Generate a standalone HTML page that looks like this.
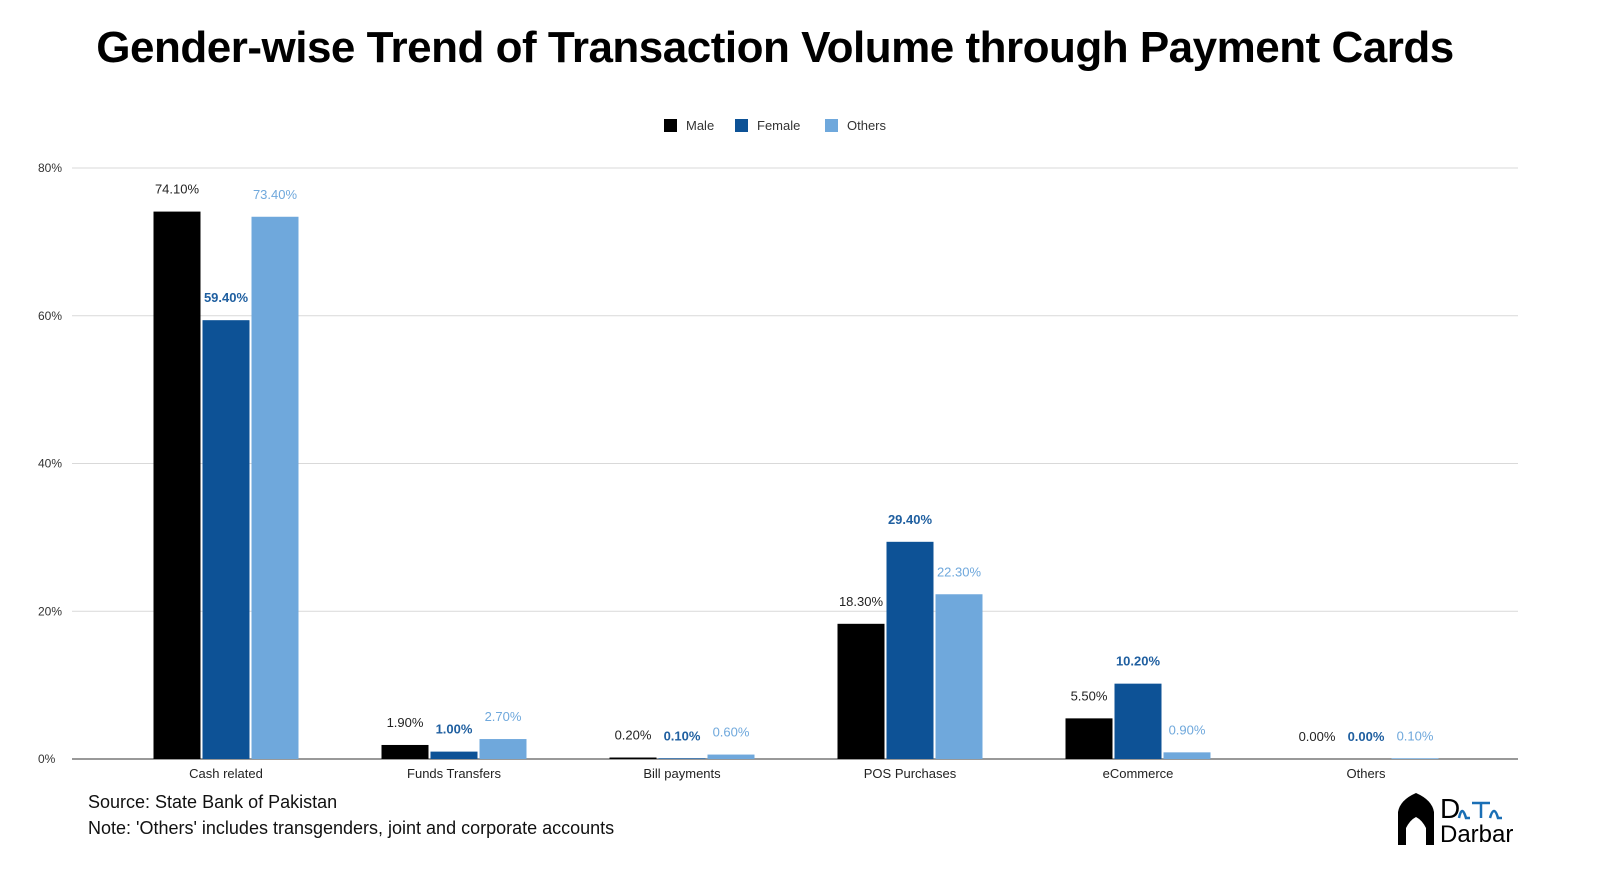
<!DOCTYPE html>
<html><head><meta charset="utf-8"><style>
body{margin:0;width:1600px;height:873px;background:#fff;font-family:"Liberation Sans",sans-serif;overflow:hidden}
</style></head><body>
<svg width="1600" height="873" xmlns="http://www.w3.org/2000/svg" id="chart">
<text x="775" y="62" text-anchor="middle" font-size="44" font-weight="bold" fill="#000" style="letter-spacing:-0.5px">Gender-wise Trend of Transaction Volume through Payment Cards</text>
<g id="legend"></g>
<g id="grid"></g><g id="bars"></g>
<text x="88" y="808" font-size="18" fill="#111">Source: State Bank of Pakistan</text>
<text x="88" y="834" font-size="18" fill="#111">Note: 'Others' includes transgenders, joint and corporate accounts</text>
<g>
<path d="M1398,845 L1398,812 Q1400,800 1416,793 Q1432,800 1434,812 L1434,845 Z" fill="#000"/>
<path d="M1406,845 L1406,828 Q1410,820 1416,817 Q1422,820 1426,828 L1426,845 Z" fill="#fff"/>
<text x="1440" y="818" font-size="28" fill="#000">D</text>
<path d="M1459,818 Q1462,804 1466,818 L1470,818 M1472,803 L1490,803 M1481,803 L1481,818 M1490,818 Q1494,804 1498,818 L1502,818" stroke="#1a6fb5" stroke-width="2.5" fill="none"/>
<text x="1440" y="842" font-size="24" fill="#000">Darbar</text>
</g>
</svg>
<script>
const categories=["Cash related","Funds Transfers","Bill payments","POS Purchases","eCommerce","Others"];
const seriesNames=["Male","Female","Others"];
const male=[74.1,1.9,0.2,18.3,5.5,0.0];
const female=[59.4,1.0,0.1,29.4,10.2,0.0];
const others=[73.4,2.7,0.6,22.3,0.9,0.1];
const yTicks=[0,20,40,60,80];
const colors=["#000000","#0d5296","#6fa8dc"];
const labelColors=["#222","#1f5fa0","#6fa8dc"];
const NS="http://www.w3.org/2000/svg";
const y0=759,yTop=168,yMax=80;
const y=v=>y0-(v/yMax)*(y0-yTop);
const xc=i=>226+i*228;
function mk(tag,attrs,parent,txt){const e=document.createElementNS(NS,tag);for(const k in attrs)e.setAttribute(k,attrs[k]);if(txt!==undefined)e.textContent=txt;document.getElementById(parent).appendChild(e);return e;}
yTicks.forEach(t=>{
 const l=mk("line",{x1:72,x2:1518,y1:y(t),y2:y(t),stroke:t===0?"#333":"#d9d9d9","stroke-width":1},"grid");
 
 
 const tx=mk("text",{x:38,y:y(t)+4,"font-size":12,fill:"#333"},"grid",t+"%");
 
 
});
const data=[male,female,others];
categories.forEach((c,i)=>{
 const cl=mk("text",{x:xc(i),y:778,"text-anchor":"middle","font-size":13,fill:"#222"},"grid",c);
 
 
 data.forEach((s,j)=>{
  const cx=xc(i)+(j-1)*49;
  const r=mk("rect",{x:cx-23.5,y:y(s[i]),width:47,height:y0-y(s[i]),fill:colors[j]},"bars");
  
  
  const t=mk("text",{x:cx,y:y(s[i])-18,"text-anchor":"middle","font-size":13,fill:labelColors[j],"font-weight":j===1?"bold":"normal"},"bars",s[i].toFixed(2)+"%");
  
  
 });
});
const lx=[664,735,825];
seriesNames.forEach((n,j)=>{
 const r=mk("rect",{x:lx[j],y:119,width:13,height:13,fill:colors[j]},"legend");
 
 
 const t=mk("text",{x:lx[j]+22,y:130,"font-size":13,fill:"#333"},"legend",n);
 
 
});
</script>
</body></html>
